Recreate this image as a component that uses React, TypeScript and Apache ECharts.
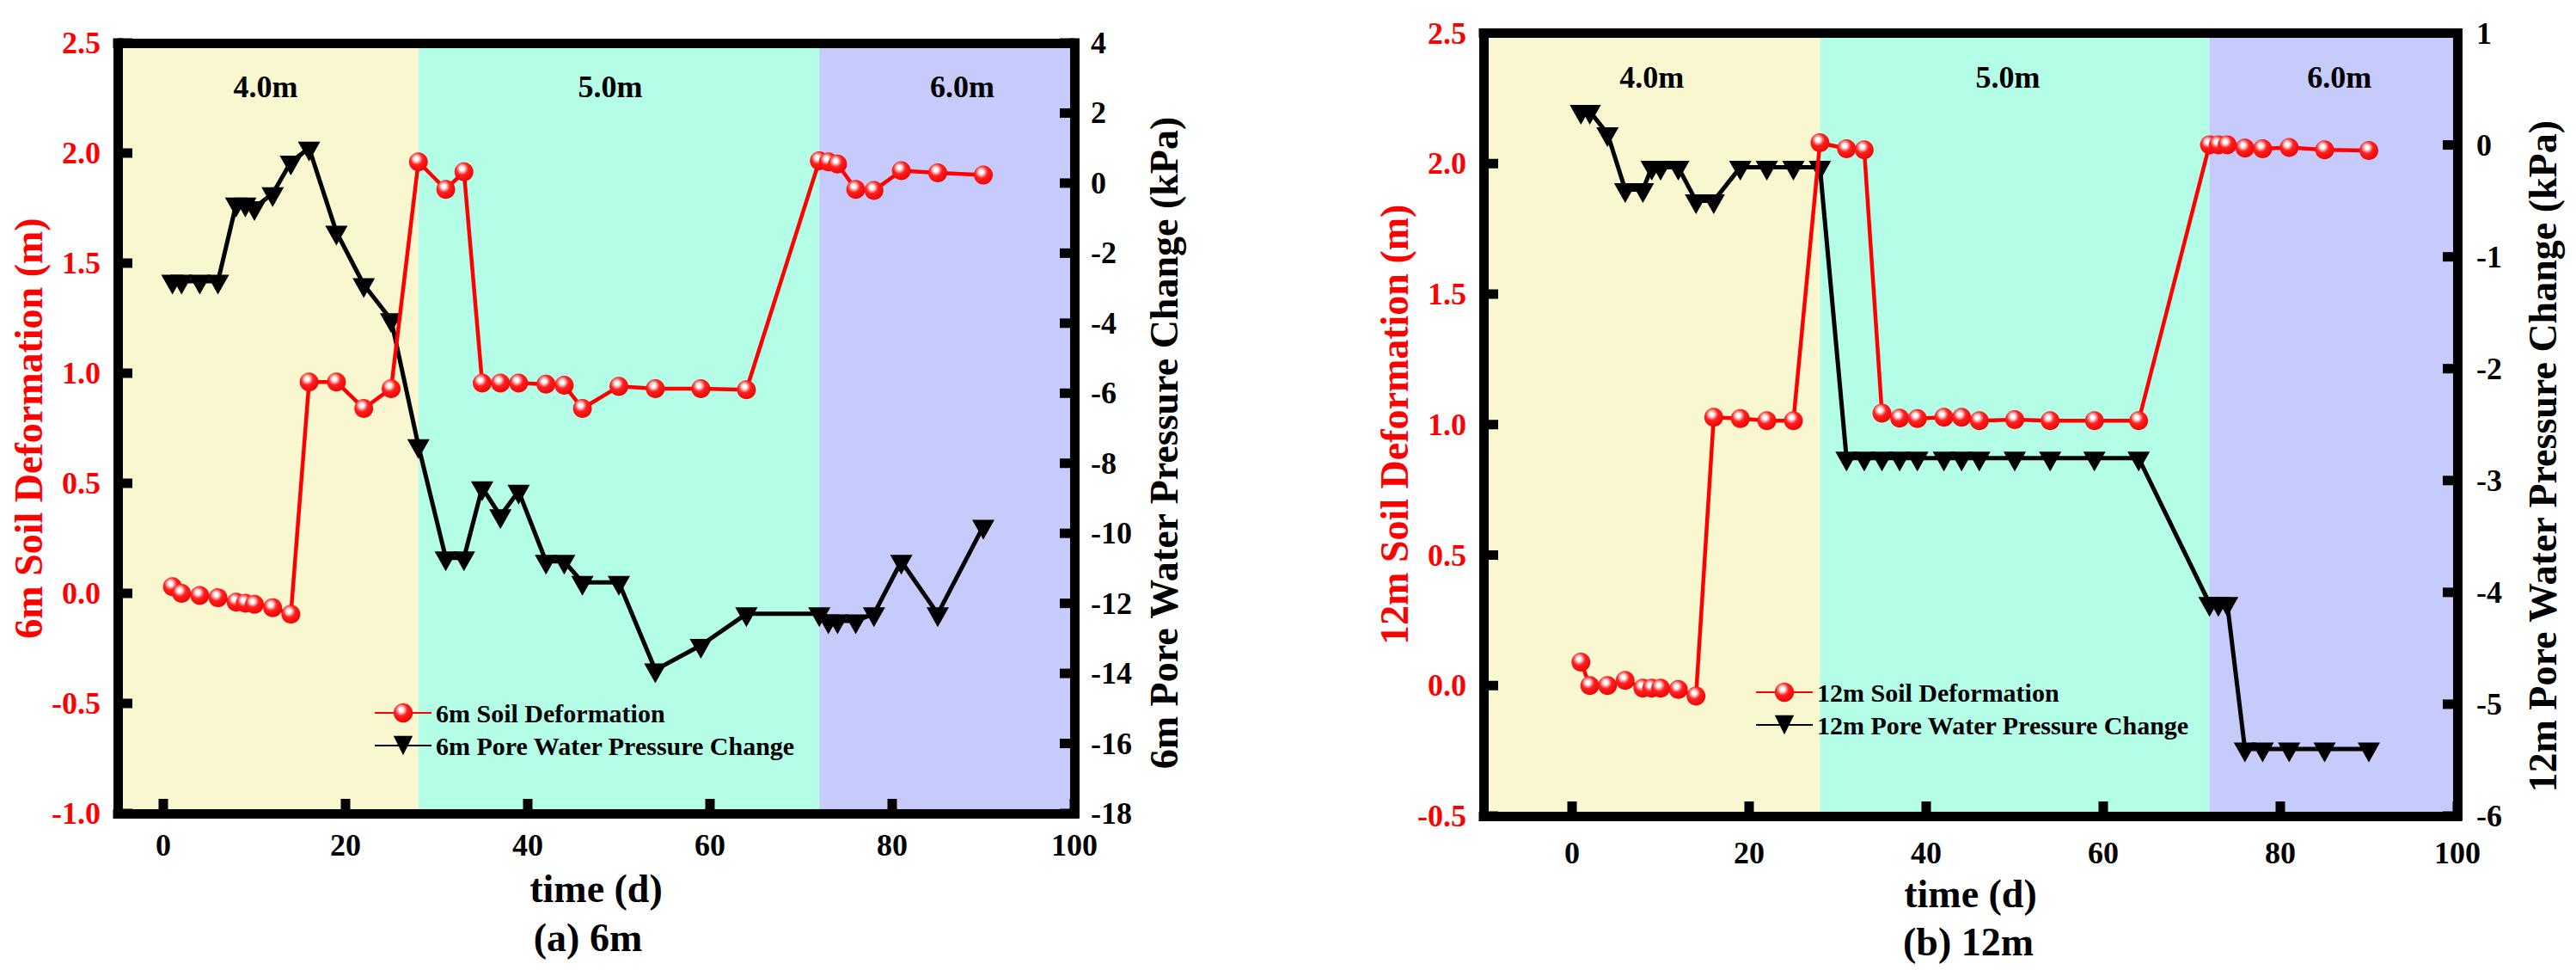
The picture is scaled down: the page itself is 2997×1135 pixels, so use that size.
import React, { useEffect, useRef } from "react";
import * as echarts from "echarts";

// ---------------- data ----------------
const daysA = [1, 2, 4, 6, 8, 9, 10, 12, 14, 16, 19, 22, 25, 28, 31, 33, 35, 37, 39, 42, 44, 46, 50, 54, 59, 64, 72, 73, 74, 76, 78, 81, 85, 90];
const soilA = [0.03, 0.0, -0.01, -0.02, -0.04, -0.045, -0.05, -0.065, -0.095, 0.96, 0.96, 0.84, 0.93, 1.96, 1.835, 1.915, 0.955, 0.955, 0.955, 0.95, 0.945, 0.84, 0.94, 0.93, 0.93, 0.925, 1.965, 1.96, 1.95, 1.835, 1.83, 1.92, 1.91, 1.9];
const poreA = [-2.8, -2.8, -2.8, -2.8, -0.6, -0.6, -0.7, -0.3, 0.6, 1.0, -1.4, -2.9, -3.9, -7.5, -10.7, -10.7, -8.7, -9.5, -8.8, -10.8, -10.8, -11.4, -11.4, -13.9, -13.2, -12.3, -12.3, -12.5, -12.5, -12.5, -12.3, -10.8, -12.3, -9.8];

const daysB = [1, 2, 4, 6, 8, 9, 10, 12, 14, 16, 19, 22, 25, 28, 31, 33, 35, 37, 39, 42, 44, 46, 50, 54, 59, 64, 72, 73, 74, 76, 78, 81, 85, 90];
const soilB = [0.09, 0.0, 0.0, 0.02, -0.01, -0.01, -0.01, -0.015, -0.04, 1.028, 1.023, 1.015, 1.015, 2.08, 2.057, 2.053, 1.044, 1.025, 1.023, 1.028, 1.028, 1.015, 1.019, 1.015, 1.015, 1.015, 2.072, 2.072, 2.072, 2.059, 2.057, 2.062, 2.053, 2.05];
const poreB = [0.3, 0.3, 0.1, -0.4, -0.4, -0.2, -0.2, -0.2, -0.5, -0.5, -0.2, -0.2, -0.2, -0.2, -2.8, -2.8, -2.8, -2.8, -2.8, -2.8, -2.8, -2.8, -2.8, -2.8, -2.8, -2.8, -4.1, -4.1, -4.1, -5.4, -5.4, -5.4, -5.4, -5.4];

const bandEdgesA = [-5, 28, 72, 100];
const bandEdgesB = [-10, 28, 72, 100];
const bandNames = ["4.0m", "5.0m", "6.0m"];

// tick values
const xTicks = [0, 20, 40, 60, 80, 100];
const yTicksLeftA = [-1.0, -0.5, 0.0, 0.5, 1.0, 1.5, 2.0, 2.5];
const yTicksRightA = [-18, -16, -14, -12, -10, -8, -6, -4, -2, 0, 2, 4];
const yTicksLeftB = [-0.5, 0.0, 0.5, 1.0, 1.5, 2.0, 2.5];
const yTicksRightB = [-6, -5, -4, -3, -2, -1, 0, 1];

const seriesNamesA = ["6m Soil Deformation", "6m Pore Water Pressure Change"];
const seriesNamesB = ["12m Soil Deformation", "12m Pore Water Pressure Change"];
const axisTitlesA = ["6m Soil Deformation (m)", "6m Pore Water Pressure Change (kPa)"];
const axisTitlesB = ["12m Soil Deformation (m)", "12m Pore Water Pressure Change (kPa)"];
const xTitle = "time (d)";
const captions = ["(a) 6m", "(b) 12m"];

// ---------------- styles ----------------
const FONT = "'Liberation Serif', 'Times New Roman', serif";
const RED = "#ff0000";
const bandColors = ["#F9F7CF", "#B4FDE6", "#C7CBFB"];
const TRI = "path://M0,0 L26,0 L13,23 Z";
const TICK_LEN = 17;
const TICK_W = 11;

const panels = [
  {
    left: 137, top: 50, right: 1250, bottom: 946,
    xMin: -5, xMax: 100, yL: [-1, 2.5, 0.5], yR: [-18, 4, 2],
    ticksL: yTicksLeftA, ticksR: yTicksRightA,
    bands: bandEdgesA, bandOffsets: [-3, -10, 18],
    days: daysA, soil: soilA, pore: poreA,
    names: seriesNamesA, titles: axisTitlesA,
    nameGapL: 75, nameGapR: 81, shiftR: 17, xNameGap: 64, labelMarginX: 19,
    labelMarginR: 19,
    legend: { left: 435, top: 814 },
    caption: { x: 684, y: 1090, text: captions[0] },
  },
  {
    left: 1726, top: 38.5, right: 2859, bottom: 949,
    xMin: -10, xMax: 100, yL: [-0.5, 2.5, 0.5], yR: [-6, 1, 1],
    ticksL: yTicksLeftB, ticksR: yTicksRightB,
    bands: bandEdgesB, bandOffsets: [0, -8, 7],
    days: daysB, soil: soilB, pore: poreB,
    names: seriesNamesB, titles: axisTitlesB,
    nameGapL: 78, nameGapR: 76, shiftR: 37, xNameGap: 67, labelMarginX: 25,
    labelMarginR: 22,
    legend: { left: 2042, top: 790 },
    caption: { x: 2290, y: 1095, text: captions[1] },
  },
];

function tickSeries(xi: number, yi: number, points: number[][], kind: "left" | "right" | "bottom") {
  return {
    type: "custom", xAxisIndex: xi, yAxisIndex: yi, z: 20, silent: true, clip: false,
    data: points,
    renderItem: (_params: any, api: any) => {
      const pt = api.coord([api.value(0), api.value(1)]);
      let shape;
      if (kind === "left") shape = { x: pt[0], y: pt[1] - TICK_W / 2, width: TICK_LEN, height: TICK_W };
      else if (kind === "right") shape = { x: pt[0] - TICK_LEN, y: pt[1] - TICK_W / 2, width: TICK_LEN, height: TICK_W };
      else shape = { x: pt[0] - TICK_W / 2, y: pt[1] - TICK_LEN, width: TICK_W, height: TICK_LEN };
      return { type: "rect", shape, style: { fill: "#000" } };
    },
  };
}

function buildOption() {
  const redGrad = new echarts.graphic.RadialGradient(0.4, 0.34, 0.72, [
    { offset: 0, color: "#ffffff" },
    { offset: 0.14, color: "#ffffff" },
    { offset: 0.28, color: "#ff9c9c" },
    { offset: 0.45, color: "#ff2020" },
    { offset: 1, color: "#ee0000" },
  ]);

  const grid: any[] = [];
  const xAxis: any[] = [];
  const yAxis: any[] = [];
  const series: any[] = [];
  const legend: any[] = [];
  const graphic: any[] = [];

  const labelBase = { fontSize: 36, fontWeight: "bold", fontFamily: FONT };
  const frameLine = { show: true, onZero: false, lineStyle: { color: "#000", width: 11, cap: "square" } };
  const AZ = 10;

  panels.forEach((p, gi) => {
    grid.push({
      left: p.left, top: p.top, width: p.right - p.left, height: p.bottom - p.top,
      show: false,
    });
    xAxis.push({
      type: "value", gridIndex: gi, position: "bottom", min: p.xMin, max: p.xMax, z: AZ,
      axisLine: frameLine,
      axisTick: { show: false },
      axisLabel: { ...labelBase, color: "#000", margin: p.labelMarginX, customValues: xTicks },
      splitLine: { show: false },
      name: xTitle, nameLocation: "middle", nameGap: p.xNameGap,
      nameTextStyle: { fontSize: 46, fontWeight: "bold", fontFamily: FONT, color: "#000" },
    });
    xAxis.push({
      type: "value", gridIndex: gi, position: "top", min: p.xMin, max: p.xMax, z: AZ,
      axisLine: frameLine,
      axisTick: { show: false },
      axisLabel: { show: false },
      splitLine: { show: false },
    });
    yAxis.push({
      type: "value", gridIndex: gi, position: "left", min: p.yL[0], max: p.yL[1], interval: p.yL[2], z: AZ,
      axisLine: frameLine,
      axisTick: { show: false },
      axisLabel: { ...labelBase, color: RED, margin: 20, showMinLabel: true, showMaxLabel: true, formatter: (v: number) => v.toFixed(1) },
      splitLine: { show: false },
      name: p.titles[0], nameLocation: "middle", nameRotate: 90, nameGap: p.nameGapL,
      nameTextStyle: { fontSize: 46, fontWeight: "bold", fontFamily: FONT, color: RED },
    });
    yAxis.push({
      type: "value", gridIndex: gi, position: "right", min: p.yR[0], max: p.yR[1], interval: p.yR[2], z: AZ,
      axisLine: frameLine,
      axisTick: { show: false },
      axisLabel: { ...labelBase, color: "#000", margin: p.labelMarginR, showMinLabel: true, showMaxLabel: true, formatter: (v: number) => String(v) },
      splitLine: { show: false },
      name: p.titles[1], nameLocation: "middle", nameRotate: 90, nameGap: p.nameGapR,
      nameTextStyle: { fontSize: 46, fontWeight: "bold", fontFamily: FONT, color: "#000", padding: [0, p.shiftR * 2, 0, 0] },
    });

    const areas = bandNames.map((nm, i) => [
      { xAxis: p.bands[i], name: nm, itemStyle: { color: bandColors[i] }, label: { offset: [p.bandOffsets[i], 0] } },
      { xAxis: p.bands[i + 1] },
    ]);

    const xi = gi * 2;
    const yl = gi * 2;
    const yr = gi * 2 + 1;

    // background depth bands
    series.push({
      type: "line", xAxisIndex: xi, yAxisIndex: yl, z: -5, data: [],
      silent: true, symbol: "none",
      markArea: {
        silent: true,
        z: -5,
        label: { show: true, position: "insideTop", distance: 33, color: "#000", fontSize: 36, fontWeight: "bold", fontFamily: FONT },
        itemStyle: { opacity: 1 },
        emphasis: { disabled: true },
        data: areas,
      },
    });
    series.push({
      type: "line", name: p.names[1], xAxisIndex: xi, yAxisIndex: yr, z: 3,
      data: p.days.map((d, i) => [d, p.pore[i]]),
      symbol: TRI, symbolSize: [26, 23], symbolOffset: [0, 4],
      itemStyle: { color: "#000" },
      lineStyle: { color: "#000", width: 5 },
      emphasis: { disabled: true }, silent: true,
    });
    series.push({
      type: "line", name: p.names[0], xAxisIndex: xi, yAxisIndex: yl, z: 4,
      data: p.days.map((d, i) => [d, p.soil[i]]),
      symbol: "circle", symbolSize: 22,
      itemStyle: { color: redGrad },
      lineStyle: { color: RED, width: 4.5 },
      emphasis: { disabled: true }, silent: true,
    });

    // inward major ticks, placed through the axes' own scales
    series.push(tickSeries(xi, yl, p.ticksL.map((v) => [p.xMin, v]), "left"));
    series.push(tickSeries(xi, yr, p.ticksR.map((v) => [p.xMax, v]), "right"));
    series.push(tickSeries(xi, yl, xTicks.map((v) => [v, p.yL[0]]), "bottom"));

    legend.push({
      data: [p.names[0], p.names[1]], orient: "vertical", left: p.legend.left, top: p.legend.top,
      padding: 0, itemGap: 8, itemWidth: 66, itemHeight: 28, selectedMode: false,
      textStyle: { fontSize: 30, fontWeight: "bold", fontFamily: FONT, color: "#000" },
    });

    graphic.push({
      type: "text", x: p.caption.x, y: p.caption.y,
      style: { text: p.caption.text, fontSize: 46, fontWeight: "bold", fontFamily: FONT, fill: "#000", align: "center", verticalAlign: "middle" },
    });
  });

  return { animation: false, backgroundColor: "#fff", grid, xAxis, yAxis, series, legend, graphic };
}

export default function App() {
  const ref = useRef<HTMLDivElement>(null);
  useEffect(() => {
    if (!ref.current) return;
    const chart = echarts.init(ref.current, undefined, { renderer: "svg" });
    chart.setOption(buildOption() as any);
    return () => chart.dispose();
  }, []);
  return <div ref={ref} style={{ position: "absolute", left: 0, top: 0, width: 2997, height: 1135, background: "#fff" }} />;
}
